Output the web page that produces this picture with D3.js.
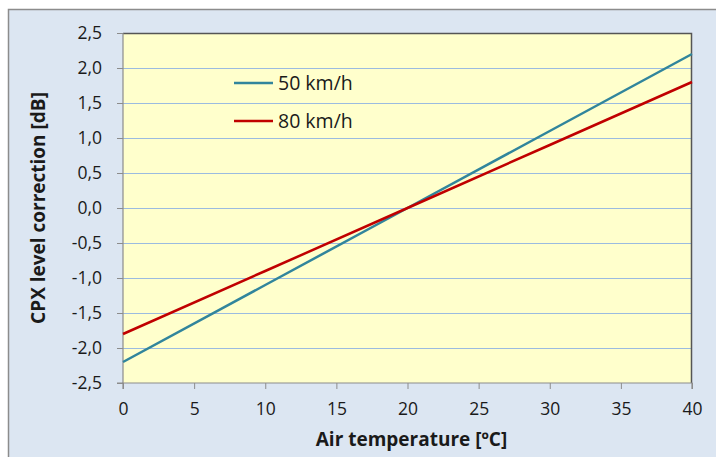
<!DOCTYPE html>
<html>
<head>
<meta charset="utf-8">
<script src="https://cdn.jsdelivr.net/npm/d3@7"></script>
<style>
  body { margin: 0; background: #ffffff; }
  text { font-family: "Open Sans", "DejaVu Sans", sans-serif; fill: #1a1a1a; }
</style>
</head>
<body>
<div id="vis-container"></div>
<script>
// Data
var temperatures = [0, 10, 20, 30, 40];
var correction50 = [-2.2, -1.1, 0.0, 1.1, 2.2];
var correction80 = [-1.8, -0.9, 0.0, 0.9, 1.8];
var seriesNames = ["50 km/h", "80 km/h"];
var xTicks = [0, 5, 10, 15, 20, 25, 30, 35, 40];
var yTicks = [-2.5, -2.0, -1.5, -1.0, -0.5, 0.0, 0.5, 1.0, 1.5, 2.0, 2.5];

var width = 716;
var height = 457;
var margins = { top: 33, right: 24, bottom: 74, left: 123 };
var visWidth = width - margins.left - margins.right;
var visHeight = height - margins.top - margins.bottom;

var svg = d3.select("#vis-container").append("svg")
    .attr("width", width).attr("height", height);

// chart area background + border
svg.append("rect")
    .attr("x", 8.5).attr("y", 9.5)
    .attr("width", width).attr("height", height)
    .attr("fill", "#dce6f2")
    .attr("stroke", "#8c8c8c")
    .attr("stroke-width", 1.5);

var viewport = svg.append("g")
    .attr("transform", "translate(" + margins.left + "," + margins.top + ")");

var x = d3.scaleLinear().domain([0, 40]).range([0, visWidth]);
var y = d3.scaleLinear().domain([-2.5, 2.5]).range([visHeight, 0]);

viewport.append("rect")
    .attr("width", visWidth).attr("height", visHeight)
    .attr("fill", "#ffffcc");

// horizontal grid lines
viewport.selectAll(".grid").data(yTicks.slice(1, -1)).enter()
    .append("line")
    .attr("class", "grid")
    .attr("x1", 0).attr("x2", visWidth)
    .attr("y1", function (d) { return Math.round(y(d)) + 0.5; })
    .attr("y2", function (d) { return Math.round(y(d)) + 0.5; })
    .attr("stroke", "#9bbbe0").attr("stroke-width", 1);

// plot border top and right
viewport.append("path")
    .attr("d", "M0," + 0.5 + "H" + (visWidth - 0.5) + "V" + visHeight)
    .attr("fill", "none").attr("stroke", "#555555").attr("stroke-width", 1.5);

// axes
var fmt = function (d) { return d3.format(".1f")(d).replace(".", ",").replace("−", "-"); };

var xAxis = viewport.append("g")
    .attr("transform", "translate(0," + visHeight + ")")
    .call(d3.axisBottom(x).tickValues(xTicks).tickSize(6).tickPadding(14));
var yAxis = viewport.append("g")
    .call(d3.axisLeft(y).tickValues(yTicks).tickFormat(fmt).tickSize(6).tickPadding(15));

[xAxis, yAxis].forEach(function (a) {
    a.select(".domain").attr("stroke", "#8c8c8c").attr("stroke-width", 1.2);
    a.selectAll(".tick line").attr("stroke", "#8c8c8c");
    a.selectAll(".tick text").style("font-size", "17.5px").attr("fill", "#1a1a1a");
});
yAxis.select(".domain").attr("d", "M-6,0.5H0V" + visHeight + "H-6");
xAxis.select(".domain").attr("d", "M0,6V0H" + visWidth + "V6");

// lines
var data50 = temperatures.map(function (t, i) { return { t: t, v: correction50[i] }; });
var data80 = temperatures.map(function (t, i) { return { t: t, v: correction80[i] }; });
var line = d3.line()
    .x(function (d) { return x(d.t); })
    .y(function (d) { return y(d.v); });

var colors = ["#31859c", "#c00000"];
viewport.append("path").datum(data50)
    .attr("d", line).attr("fill", "none")
    .attr("stroke", colors[0]).attr("stroke-width", 2.5);
viewport.append("path").datum(data80)
    .attr("d", line).attr("fill", "none")
    .attr("stroke", colors[1]).attr("stroke-width", 2.5);

// legend
var legend = svg.append("g");
seriesNames.forEach(function (name, i) {
    var ly = 83 + i * 38;
    legend.append("line")
        .attr("x1", 234).attr("x2", 273)
        .attr("y1", ly).attr("y2", ly)
        .attr("stroke", colors[i]).attr("stroke-width", 2.5);
    legend.append("text")
        .attr("x", 278).attr("y", ly + 7)
        .style("font-size", "19.5px")
        .text(name);
});

// axis titles
svg.append("text")
    .attr("x", margins.left + visWidth / 2 + 4).attr("y", 446)
    .attr("text-anchor", "middle")
    .style("font-size", "19px").style("font-weight", "bold")
    .text("Air temperature [ºC]");

svg.append("text")
    .attr("transform", "translate(45," + (margins.top + visHeight / 2) + ") rotate(-90)")
    .attr("text-anchor", "middle")
    .style("font-size", "19px").style("font-weight", "bold")
    .text("CPX level correction [dB]");
</script>
</body>
</html>
